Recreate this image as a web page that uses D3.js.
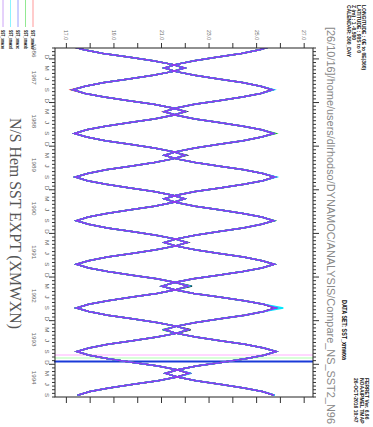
<!DOCTYPE html>
<html><head><meta charset="utf-8">
<script src="https://cdn.jsdelivr.net/npm/d3@7"></script>
<style>html,body{margin:0;padding:0;background:#fff;}svg{display:block;}</style>
</head><body>
<script>
// ---- data (monthly means, first value = Sep 1986) ----
const firstYear = 1986, firstMonth = 9;
const sstSouth = [17.20,
 17.72,18.53,19.58,20.62,21.43,21.95, 21.43,20.63,19.60,18.57,17.77,17.25,
 17.77,18.57,19.61,20.65,21.45,21.97, 21.46,20.67,19.65,18.62,17.83,17.32,
 17.83,18.62,19.65,20.67,21.46,21.97, 21.46,20.68,19.67,18.65,17.87,17.36,
 17.86,18.65,19.66,20.66,21.45,21.95, 21.45,20.68,19.68,18.67,17.90,17.40,
 17.91,18.70,19.73,20.75,21.54,22.05, 21.54,20.75,19.73,18.70,17.91,17.40,
 17.92,18.72,19.75,20.78,21.58,22.10, 21.58,20.78,19.75,18.72,17.92,17.40,
 17.92,18.72,19.75,20.78,21.58,22.10, 21.59,20.79,19.76,18.73,17.93,17.42,
 17.94,18.74,19.79,20.83,21.63,22.15, 21.63,20.83,19.80,18.77,17.97,17.45];
const sstNorth = [25.60,
 25.11,24.34,23.35,22.36,21.60,21.10, 21.60,22.37,23.38,24.38,25.15,25.65,
 25.15,24.38,23.38,22.37,21.60,21.10, 21.61,22.39,23.40,24.41,25.19,25.70,
 25.19,24.41,23.40,22.39,21.61,21.10, 21.61,22.40,23.43,24.45,25.24,25.75,
 25.24,24.45,23.43,22.40,21.61,21.10, 21.61,22.39,23.40,24.41,25.19,25.70,
 25.19,24.41,23.40,22.39,21.61,21.10, 21.61,22.39,23.41,24.43,25.21,25.72,
 25.20,24.40,23.36,22.32,21.52,21.00, 21.53,22.34,23.40,24.46,25.27,25.80,
 25.28,24.48,23.45,22.42,21.62,21.10, 21.62,22.42,23.45,24.48,25.28,25.80,
 25.29,24.50,23.48,22.45,21.66,21.15, 21.65,22.43,23.44,24.44,25.22,25.72];
// experiments: name, colour, small differences from the base run
const experiments = ["xmwxn","xmwxa","xmwxb","xmwxc","xmwxd","xmwxe"];
const expColors = ["#000000","#ff2020","#10d010","#2030ff","#00e8ff","#9038f0"];
const expDeltas = [
  [["1988-03","S",0.05],["1989-03","S",0.06],["1992-03","S",0.16],["1993-03","S",0.10],["1991-03","S",0.04]],
  [["1987-09","S",-0.06],["1986-09","S",-0.05],["1988-03","N",-0.03]],
  [["1988-09","N",0.08],["1993-03","N",-0.08],["1990-09","N",0.03],["1987-03","S",-0.04]],
  [],
  [["1987-09","N",0.06],["1989-09","N",0.06],["1992-09","N",0.30],["1994-03","S",0.08],["1992-03","S",0.06],["1994-09","N",0.03]],
  []
];
const legendLabels = ["SST_xmwxa","SST_xmwxb","SST_xmwxc","SST_xmwxd","SST_xmwxe"];
const sstTicks = [17,18,19,20,21,22,23,24,25,26,27];
const monthLetters = [[12,"D"],[3,"M"],[6,"J"],[9,"S"]];
const years = [1986,1987,1988,1989,1990,1991,1992,1993,1994];
const markerTimes = [1993.787, 1993.856, 1993.936];
const markerColors = ["#ffb0ff","#b0ffb0","#1a3ad8"];
const headerText = "[26/10/16]/home/users/dlrhodso/DYNAMOC/ANALYSIS/Compare_NS_SST2_N96";
const titleText = "N/S Hem SST EXPT (XMWXN)";
const infoLines = ["LONGITUDE : 0E to 0E(360)","LATITUDE : 90S to 0","Z (m) : 1 -0.500","CALENDAR: 360_DAY"];
const logoLines = ["FERRET Ver. 6.96","NOAA/PMEL TMAP","26-OCT-2016 10:47"];

// ---- drawing ----
const W = 373, H = 427;
const svg = d3.select("body").append("svg").attr("width", W).attr("height", H);
// the whole plot is drawn in its native orientation, then turned 90 degrees clockwise
const g = svg.append("g").attr("transform", `translate(${W},0) rotate(90)`);
const tDom = [1986.75, 1994.75];
const x = d3.scaleLinear().domain(tDom).range([48, 397]);
const y = d3.scaleLinear().domain([16.5, 27.35]).range([318, 60]);
const X0 = 48, X1 = 397, Y0 = 60, Y1 = 318;
const font = "'Liberation Sans', Arial, sans-serif";

function tOf(i){ const m = firstMonth - 1 + i; return firstYear + Math.floor(m/12) + ((m%12) + 0.5)/12; }
function idxOf(s){ const [yy,mm] = s.split("-").map(Number); return (yy-firstYear)*12 + (mm-firstMonth); }

g.append("clipPath").attr("id","plotclip").append("rect")
  .attr("x", X0).attr("y", Y0).attr("width", X1-X0).attr("height", Y1-Y0);

// marker lines
g.append("g").selectAll("line").data(markerTimes).join("line")
  .attr("x1", d=>x(d)).attr("x2", d=>x(d)).attr("y1", Y0).attr("y2", Y1+1)
  .attr("stroke", (d,i)=>markerColors[i]).attr("stroke-width", (d,i)=> i===2 ? 2 : 1.2);

const line = d3.line().x(d=>x(d.t)).y(d=>y(d.v));
const lines = g.append("g").attr("clip-path","url(#plotclip)");
experiments.forEach((e, k) => {
  const S = sstSouth.slice(), N = sstNorth.slice();
  expDeltas[k].forEach(([m, h, dv]) => { const i = idxOf(m); if (h==="S") S[i] += dv; else N[i] += dv; });
  [S, N].forEach(arr => {
    lines.append("path").datum(arr.map((v,i)=>({t:tOf(i), v})))
      .attr("d", line).attr("fill","none").attr("stroke", expColors[k])
      .attr("stroke-width", 1.5).attr("stroke-linejoin","miter");
  });
});

// frame
g.append("rect").attr("x", X0).attr("y", Y0).attr("width", X1-X0).attr("height", Y1-Y0)
  .attr("fill","none").attr("stroke","#222").attr("stroke-width",1);

// SST axis (left in native orientation) + mirror on right
const axL = g.append("g").attr("transform",`translate(${X0},0)`)
  .call(d3.axisLeft(y).tickValues(sstTicks).tickSize(5).tickSizeOuter(0)
    .tickFormat(d => d % 2 === 1 ? d.toFixed(1) : ""));
axL.select(".domain").remove();
axL.selectAll("line").attr("stroke","#333");
axL.selectAll("text").attr("x",-8).attr("font-family",font).attr("font-size",6.2)
  .attr("fill","#666").attr("textLength",10).attr("lengthAdjust","spacingAndGlyphs");
const axR = g.append("g").attr("transform",`translate(${X1},0)`)
  .call(d3.axisRight(y).tickValues(sstTicks).tickSize(6).tickSizeOuter(0).tickFormat(""));
axR.select(".domain").remove();
axR.selectAll("line").attr("stroke","#333");

// time axis ticks
const monthStarts = d3.range(Math.ceil(tDom[0]*12), Math.floor(tDom[1]*12)+1).map(m=>m/12);
[[Y1, 1], [Y0, -1]].forEach(([yy, dir]) => {
  g.append("g").selectAll("line").data(monthStarts).join("line")
    .attr("x1", d=>x(d)).attr("x2", d=>x(d)).attr("y1", yy)
    .attr("y2", d => yy + dir * (Math.abs(d - Math.round(d)) < 1e-6 ? 6 : 3))
    .attr("stroke","#333").attr("stroke-width",1);
});
// month letters
const ml = [];
years.forEach(yr => monthLetters.forEach(([m, L]) => {
  const t = yr + (m-0.5)/12; if (t > tDom[0] && t < tDom[1]) ml.push({t, L});
}));
g.append("g").selectAll("text").data(ml).join("text")
  .attr("x", d=>x(d.t)).attr("y", 328.5).attr("text-anchor","middle")
  .attr("font-family",font).attr("font-size",6.2).attr("fill","#666").text(d=>d.L);
// year labels
g.append("g").selectAll("text").data(years).join("text")
  .attr("x", d => x((Math.max(d, tDom[0]) + Math.min(d+1, tDom[1]))/2) - 3)
  .attr("y", 341).attr("text-anchor","middle")
  .attr("font-family",font).attr("font-size",6.2).attr("fill","#666").text(d=>d);

// title
g.append("text").attr("x", 118).attr("y", 363).attr("font-family","'Liberation Serif', 'DejaVu Serif', serif")
  .attr("font-size",16).attr("fill","#555").attr("textLength",211).attr("lengthAdjust","spacingAndGlyphs")
  .text(titleText);
// header path
g.append("text").attr("x", 27).attr("y", 46).attr("font-family",font).attr("font-size",11)
  .attr("fill","#888").attr("textLength",397).attr("lengthAdjust","spacingAndGlyphs").text(headerText);
// data set
g.append("text").attr("x", 300).attr("y", 31).attr("font-family",font).attr("font-size",7)
  .attr("font-weight","bold").attr("fill","#111").attr("textLength",60).attr("lengthAdjust","spacingAndGlyphs")
  .text("DATA SET: SST_xmwxa");
// info block
g.append("g").selectAll("text").data(infoLines).join("text")
  .attr("x", 5).attr("y", (d,i)=> 11 + i*5).attr("font-family",font).attr("font-size",5)
  .attr("font-weight","bold").attr("fill","#111").text(d=>d);
// logo block
g.append("g").selectAll("text").data(logoLines).join("text")
  .attr("x", 378).attr("y", (d,i)=> 8 + i*5.5).attr("font-family",font).attr("font-size",5)
  .attr("font-weight","bold").attr("fill","#111").text(d=>d);
// legend
const lg = g.append("g");
legendLabels.forEach((lab, i) => {
  const yy = 340 + i*7.5;
  lg.append("line").attr("x1",0).attr("x2",27).attr("y1",yy).attr("y2",yy)
    .attr("stroke", expColors[i+1]).attr("stroke-width",1).attr("opacity",0.45);
  lg.append("text").attr("x",30).attr("y",yy+1.8).attr("font-family",font).attr("font-size",4.5)
    .attr("font-weight","bold").attr("fill","#111").attr("textLength",19).attr("lengthAdjust","spacingAndGlyphs").text(lab);
});
</script>
</body></html>
